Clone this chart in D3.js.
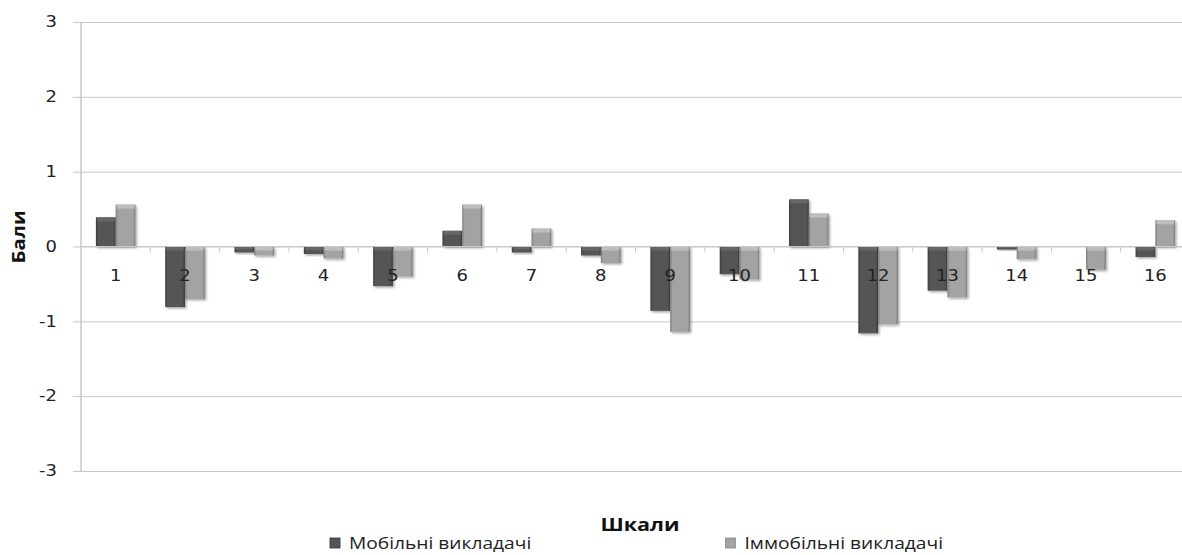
<!DOCTYPE html>
<html>
<head>
<meta charset="utf-8">
<script src="https://cdn.jsdelivr.net/npm/d3@7/dist/d3.min.js"></script>
<style>
  html, body { margin: 0; padding: 0; background: #fff; }
  svg { display: block; }
</style>
</head>
<body>
<svg id="chart" width="1182" height="555"></svg>
<script>
// Scale numbers (categories) and the two series of mean scores
const categories = ["1","2","3","4","5","6","7","8","9","10","11","12","13","14","15","16"];
const mobile   = [0.39, -0.81, -0.08, -0.10, -0.53, 0.21, -0.08, -0.12, -0.86, -0.37, 0.63, -1.16, -0.59, -0.04, 0.00, -0.14];
const immobile = [0.56, -0.70, -0.12, -0.16, -0.40, 0.56, 0.24, -0.22, -1.14, -0.44, 0.44, -1.04, -0.68, -0.17, -0.31, 0.35];
const seriesNames = ["Мобільні викладачі", "Іммобільні викладачі"];
const yTicks = [-3, -2, -1, 0, 1, 2, 3];

const svg = d3.select("#chart");
const margin = { left: 81, right: -8, top: 22, bottom: 84 };
const W = 1182, H = 555;
const stretch = 1.2; // horizontal widening of all lettering
const labelFont = "'DejaVu Sans', sans-serif";
const titleFont = "'Open Sans', 'DejaVu Sans', sans-serif";

const x = d3.scaleBand()
  .domain(categories)
  .range([margin.left, W - margin.right])
  .paddingInner(0.43)
  .paddingOuter(0.215);
const xSeries = d3.scaleBand().domain([0, 1]).range([0, x.bandwidth()]);
const y = d3.scaleLinear().domain([-3, 3]).range([H - margin.bottom, margin.top]);

// Gradients giving the bars a bevelled look
const defs = svg.append("defs");
function barGradient(id, edge, mid) {
  const g = defs.append("linearGradient").attr("id", id)
    .attr("x1", "0").attr("x2", "1").attr("y1", "0").attr("y2", "0");
  g.append("stop").attr("offset", "0%").attr("stop-color", edge);
  g.append("stop").attr("offset", "12%").attr("stop-color", mid);
  g.append("stop").attr("offset", "88%").attr("stop-color", mid);
  g.append("stop").attr("offset", "100%").attr("stop-color", edge);
}
barGradient("gDark", "#3a3a3a", "#555555");
barGradient("gLight", "#7c7c7c", "#a3a3a3");
const shadow = defs.append("filter").attr("id", "shadow")
  .attr("x", "-20%").attr("y", "-20%").attr("width", "150%").attr("height", "150%");
shadow.append("feDropShadow").attr("dx", 1.5).attr("dy", 1.5)
  .attr("stdDeviation", 1.2).attr("flood-color", "#000").attr("flood-opacity", 0.35);

// Horizontal gridlines with outward ticks
const yAxis = d3.axisLeft(y).tickValues(yTicks).tickFormat(d => String(d))
  .tickSize(-(W - margin.left)).tickSizeOuter(0).tickPadding(24);
const gy = svg.append("g").attr("transform", `translate(${margin.left},0)`).call(yAxis);
gy.select(".domain").remove();
gy.selectAll(".tick line").attr("stroke", "#c8c8c8").attr("stroke-width", 1)
  .attr("x1", -8);
gy.selectAll(".tick text")
  .attr("font-family", labelFont).attr("font-size", 15).attr("fill", "#222")
  .attr("transform", `scale(${stretch},1)`)
  .attr("x", -24 / stretch);

// Vertical axis line
svg.append("line")
  .attr("x1", margin.left).attr("x2", margin.left)
  .attr("y1", y(3)).attr("y2", y(-3))
  .attr("stroke", "#c8c8c8").attr("stroke-width", 1.5);

// Bars
const data = [mobile, immobile];
const fills = ["url(#gDark)", "url(#gLight)"];
const tops = ["#6a6a6a", "#c4c4c4"];
const barsG = svg.append("g");
data.forEach((vals, si) => {
  const grp = barsG.append("g");
  vals.forEach((v, i) => {
    const x0 = x(categories[i]) + xSeries(si);
    const w = xSeries.bandwidth();
    const y0 = Math.min(y(v), y(0));
    const h = Math.abs(y(v) - y(0));
    if (h < 0.5) return;
    grp.append("rect").attr("x", x0).attr("y", y0).attr("width", w).attr("height", h)
      .attr("fill", fills[si]).attr("filter", "url(#shadow)");
    // light bevel strip at the top edge of each bar
    const bev = Math.min(4, h / 2);
    grp.append("rect").attr("x", x0 + 1).attr("y", y0)
      .attr("width", w - 2).attr("height", bev)
      .attr("fill", tops[si]).attr("opacity", 0.8);
  });
});

// Zero baseline with short ticks between categories
svg.append("line")
  .attr("x1", margin.left).attr("x2", W)
  .attr("y1", y(0)).attr("y2", y(0))
  .attr("stroke", "#c8c8c8").attr("stroke-width", 1);
categories.forEach((c, i) => {
  if (i === 0) return;
  const xt = x(c) - x.step() * x.paddingInner() / 2;
  svg.append("line").attr("x1", xt).attr("x2", xt)
    .attr("y1", y(0)).attr("y2", y(0) + 6)
    .attr("stroke", "#c8c8c8");
});

// Category labels, drawn above the bars
const xAxis = d3.axisBottom(x).tickSize(0).tickPadding(0);
const gx = svg.append("g").attr("transform", `translate(0,${y(0)})`).call(xAxis);
gx.select(".domain").remove();
gx.selectAll(".tick text")
  .attr("font-family", labelFont).attr("font-size", 15).attr("fill", "#222")
  .attr("dy", null).attr("y", 35)
  .attr("transform", `scale(${stretch},1)`);

// Axis titles
svg.append("text")
  .attr("transform", `translate(25,237) rotate(-90) scale(${stretch},1)`)
  .attr("text-anchor", "middle")
  .attr("font-family", titleFont)
  .attr("font-weight", "bold").attr("font-size", 17).attr("fill", "#111")
  .text("Бали");
svg.append("text")
  .attr("transform", `translate(640,531) scale(${stretch},1)`)
  .attr("text-anchor", "middle")
  .attr("font-family", titleFont)
  .attr("font-weight", "bold").attr("font-size", 18).attr("fill", "#111")
  .text("Шкали");

// Legend
const legendX = [330, 0];
const legendFill = ["#555555", "#a3a3a3"];
seriesNames.forEach((name, i) => {
  const g = svg.append("g");
  const t = g.append("text").attr("y", 549)
    .attr("font-family", titleFont)
    .attr("font-size", 16).attr("fill", "#222")
    .attr("transform", `scale(${stretch},1)`)
    .text(name);
  const tw = t.node().getComputedTextLength() * stretch;
  // first entry starts at a fixed left edge, second ends at a fixed right edge
  const left = i === 0 ? legendX[0] : 943 - tw - 19;
  g.append("rect").attr("x", left).attr("y", 538).attr("width", 10).attr("height", 10)
    .attr("fill", legendFill[i]).attr("stroke", i === 0 ? "#333" : "#888").attr("stroke-width", 0.8);
  t.attr("x", (left + 19) / stretch);
});
</script>
</body>
</html>
